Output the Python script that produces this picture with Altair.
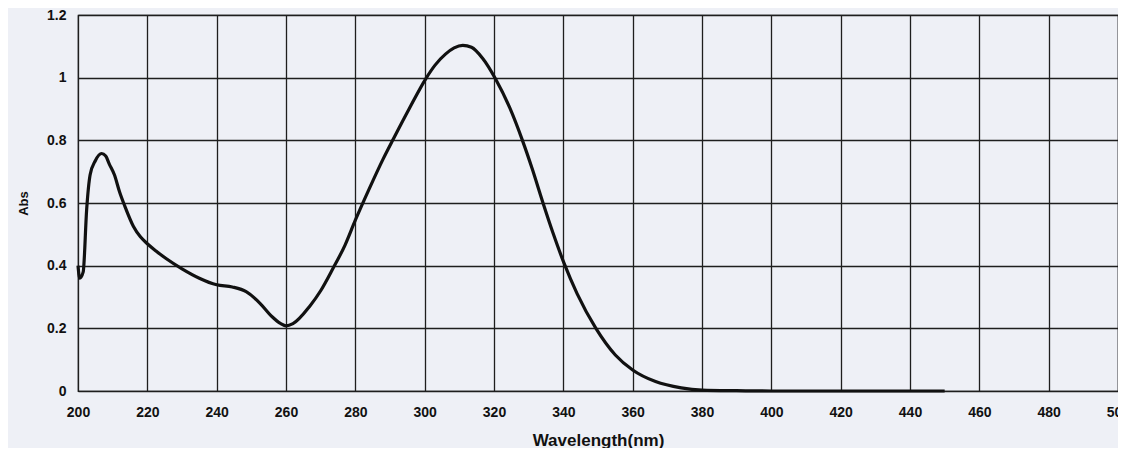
import altair as alt
import pandas as pd

wavelength = [200, 200.5, 201.5, 202.5, 203.5, 205, 206.8, 208, 209, 210.5, 212, 213.5,
              216, 218, 220, 222.5, 225.5, 230, 235, 240, 244.5, 248.5, 252.5, 256,
              258.5, 260, 262, 266.8, 270, 273.5, 277, 280, 284, 288, 291, 295.5,
              300.4, 303, 306, 308.5, 311, 313.5, 316.7, 320.5, 324.5, 328.2, 331, 334,
              337, 340.2, 344, 349.4, 355, 360, 366.6, 374, 380, 390, 400, 450]
absorbance = [0.40, 0.36, 0.38, 0.58, 0.69, 0.735, 0.758, 0.75, 0.725, 0.69, 0.635, 0.59,
              0.525, 0.492, 0.47, 0.447, 0.422, 0.39, 0.36, 0.339, 0.332, 0.317, 0.28, 0.237,
              0.215, 0.208, 0.215, 0.27, 0.32, 0.39, 0.465, 0.545, 0.645, 0.74, 0.805, 0.90,
              0.998, 1.04, 1.075, 1.095, 1.103, 1.097, 1.062, 0.995, 0.905, 0.80, 0.71, 0.605,
              0.505, 0.408, 0.31, 0.20, 0.115, 0.067, 0.03, 0.01, 0.003, 0.001, 0.0, 0.0]

x_ticks = list(range(200, 501, 20))
y_ticks = [0, 0.2, 0.4, 0.6, 0.8, 1.0, 1.2]

df = pd.DataFrame({"wavelength": wavelength, "abs": absorbance})

font = "Liberation Sans"

chart = alt.Chart(df).mark_line(
    color="#111111", strokeWidth=3.2, interpolate="monotone"
).encode(
    x=alt.X("wavelength:Q",
            scale=alt.Scale(domain=[200, 500], nice=False, zero=False),
            axis=alt.Axis(values=x_ticks, title="Wavelength(nm)", format="d",
                          labelPadding=14, titleY=54, titleBaseline="alphabetic",
                          labelFontSize=14, titleFontSize=17)),
    y=alt.Y("abs:Q",
            scale=alt.Scale(domain=[0, 1.2], nice=False),
            axis=alt.Axis(values=y_ticks, title="Abs", format="~g",
                          labelPadding=12, titleX=-51, titleY=188,
                          titleBaseline="alphabetic", titleAngle=-90,
                          labelFontSize=14, titleFontSize=13)),
).properties(
    width=1040, height=376,
    autosize=alt.AutoSizeParams(type="none"),
    padding={"left": 70, "top": 7, "right": 0, "bottom": 57},
    background="#eef0f6",
).configure_view(
    stroke="#111111", strokeWidth=1.2, fill="#eef0f6"
).configure_axis(
    grid=True, gridColor="#1e1e1e", gridWidth=1.3, gridOpacity=1,
    domain=False, ticks=False,
    labelFont=font, titleFont=font, labelFontWeight="bold", titleFontWeight="bold",
    labelColor="#111111", titleColor="#111111", labelFlush=False, labelOverlap=False,
)

chart.save("out.html", embed_options={"renderer": "svg", "actions": False})
